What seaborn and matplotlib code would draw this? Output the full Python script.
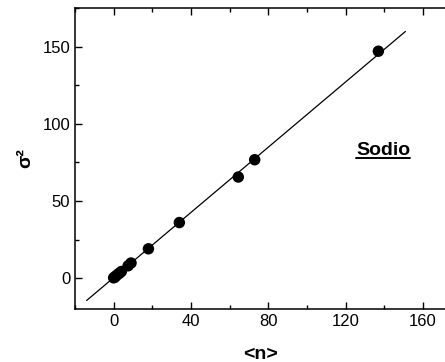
import matplotlib
matplotlib.use("Agg")
import matplotlib.pyplot as plt
import seaborn as sns
import pandas as pd
from matplotlib.ticker import MultipleLocator
from matplotlib.lines import Line2D

sns.set_style("white")
plt.rcParams['font.family'] = ['Liberation Sans', 'DejaVu Sans']
plt.rcParams.update({
    "text.color": "black", "axes.labelcolor": "black",
    "xtick.color": "black", "ytick.color": "black",
    "axes.edgecolor": "black",
    "xtick.direction": "in", "ytick.direction": "in",
})

# data
mean_n = [0, 0.5, 1, 2, 3, 4, 7.5, 9, 18, 34, 64.5, 73, 137]
variance = [0.2, 0.5, 1.2, 2.3, 3.2, 4.3, 8, 9.8, 19, 36, 65.5, 76.7, 147]
fit_x = [-14, 151]
fit_y = [-14.5, 159.8]
x_ticks = [0, 40, 80, 120, 160]
y_ticks = [0, 50, 100, 150]

pts = pd.DataFrame({"n": mean_n, "s2": variance})
fit = pd.DataFrame({"n": fit_x, "s2": fit_y})

fig = plt.figure(figsize=(4.45, 3.62), dpi=100)
ax = fig.add_axes([75/445, 1-309/362, 371/445, 301/362])

sns.lineplot(data=fit, x="n", y="s2", ax=ax, color="black", linewidth=0.9)
sns.scatterplot(data=pts, x="n", y="s2", ax=ax, color="black", s=68,
                edgecolor="none", zorder=3)

ax.set_xlim(-20, 172)
ax.set_ylim(-20, 175)
ax.set_xticks(x_ticks)
ax.set_yticks(y_ticks)
ax.xaxis.set_minor_locator(MultipleLocator(20))
ax.yaxis.set_minor_locator(MultipleLocator(25))
ax.tick_params(which="both", direction="in", top=True, bottom=True,
               left=True, right=False, labelsize=12, width=1,
               colors="black")
ax.tick_params(which="major", length=5)
ax.tick_params(which="minor", length=3)
for s in ax.spines.values():
    s.set_linewidth(1.1)
    s.set_color("black")

ax.set_xlabel("<n>", fontsize=14, fontweight="bold", labelpad=12)
ax.set_ylabel("σ²", fontsize=14, fontweight="bold", labelpad=6)

t = ax.text(139.5, 83, "Sodio", fontsize=14, fontweight="bold",
            ha="center", va="center", color="black")
fig.canvas.draw()
bb = t.get_window_extent()
uy = bb.y0 + 1
fig.add_artist(Line2D([bb.x0, bb.x1], [uy, uy], transform=None,
                      color="black", linewidth=1.4))

fig.savefig("out.png", dpi=100)
